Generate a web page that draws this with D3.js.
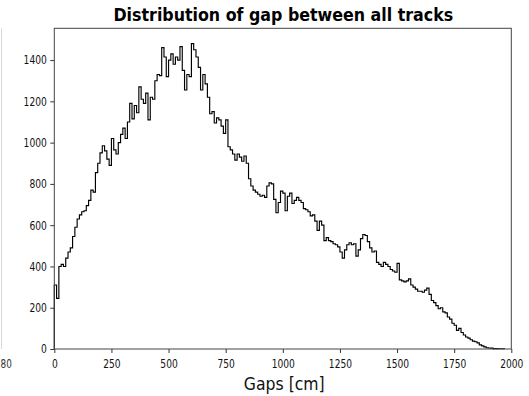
<!DOCTYPE html>
<html>
<head>
<meta charset="utf-8">
<script src="https://cdn.jsdelivr.net/npm/d3@7"></script>
<style>
  html, body { margin: 0; padding: 0; background: #fff; }
  svg { display: block; }
</style>
</head>
<body>
<svg id="chart" width="529" height="396"></svg>
<script>
// Histogram of gaps between tracks, 10 cm bins starting at 0 cm
const binStart = 0;
const binWidth = 10;
const counts = [
  310, 245, 400, 410, 400, 440, 470, 490, 545, 590,
  630, 650, 665, 670, 695, 720, 770, 760, 855, 900,
  950, 985, 960, 920, 890, 1020, 965, 945, 1000, 1040,
  1070, 1020, 1100, 1190, 1115, 1180, 1145, 1270, 1210, 1190,
  1240, 1110, 1220, 1210, 1300, 1330, 1325, 1460, 1415, 1320,
  1400, 1430, 1380, 1415, 1400, 1465, 1350, 1255, 1330, 1320,
  1480, 1450, 1415, 1365, 1255, 1330, 1285, 1220, 1140, 1150,
  1095, 1120, 1110, 1080, 1045, 1110, 980, 965, 945, 915,
  945, 930, 910, 935, 900, 825, 790, 770, 760, 750,
  740, 745, 735, 790, 805, 800, 725, 660, 710, 765,
  755, 670, 740, 755, 705, 720, 735, 720, 710, 680,
  675, 665, 645, 650, 620, 575, 620, 600, 525, 540,
  525, 520, 510, 505, 495, 470, 440, 480, 505, 515,
  505, 510, 450, 480, 535, 555, 550, 520, 490, 470,
  475, 420, 410, 400, 420, 410, 400, 385, 378, 372,
  415, 335, 330, 325, 330, 340, 310, 300, 290, 280,
  280, 275, 285, 295, 265, 235, 225, 210, 195, 200,
  180, 175, 155, 145, 125, 115, 90, 100, 80, 68,
  58, 53, 45, 38, 35, 30, 20, 15, 10, 6,
  5, 4, 2, 2, 1, 1, 1
];

const xTicks = [0, 250, 500, 750, 1000, 1250, 1500, 1750, 2000];
const yTicks = [0, 200, 400, 600, 800, 1000, 1200, 1400];
const xDomain = [0, 2000];

const titleText = "Distribution of gap between all tracks";
const xLabelText = "Gaps [cm]";
const neighbourTick = "80";

// Layout
const W = 529, H = 396;
const plot = { left: 54.3, right: 511.3, top: 28.3, bottom: 349 };
const FONT = "'DejaVu Sans', 'Liberation Sans', sans-serif";
const TEXT_SQUEEZE = 0.76;

const svg = d3.select("#chart");

const x = d3.scaleLinear().domain(xDomain).range([plot.left, plot.right]);
const yMax = d3.max(counts) * 1.05;
const y = d3.scaleLinear().domain([0, yMax]).range([plot.bottom, plot.top]);

// Horizontally narrow every label around its anchor point
function squeeze(sel, factor) {
  sel.each(function () {
    const t = d3.select(this);
    const ax = +t.attr("x") || 0;
    t.attr("transform", `translate(${ax},0) scale(${factor},1) translate(${-ax},0)`);
  });
}

// Edge of the neighbouring panel on the left
svg.append("line")
  .attr("x1", 1.5).attr("x2", 1.5)
  .attr("y1", plot.top).attr("y2", plot.bottom)
  .attr("stroke", "#d8d8d8").attr("stroke-width", 1);
const nb = svg.append("text")
  .attr("x", 0.5).attr("y", 368)
  .attr("text-anchor", "start")
  .attr("font-family", FONT).attr("font-size", 11.7)
  .attr("fill", "#333")
  .text(neighbourTick);
squeeze(nb, TEXT_SQUEEZE);

// Step outline of the histogram
const pts = [[binStart, 0]];
counts.forEach((c, i) => pts.push([binStart + i * binWidth, c]));
const lastEdge = binStart + counts.length * binWidth;
pts.push([lastEdge, counts[counts.length - 1]]);
pts.push([lastEdge, 0]);

const line = d3.line()
  .x(d => x(d[0]))
  .y(d => y(d[1]))
  .curve(d3.curveStepAfter);

svg.append("path")
  .datum(pts)
  .attr("fill", "none")
  .attr("stroke", "#000")
  .attr("stroke-width", 1.15)
  .attr("stroke-linejoin", "miter")
  .attr("d", line);

// Axes
const xAxis = svg.append("g")
  .attr("transform", `translate(0,${plot.bottom})`)
  .call(d3.axisBottom(x).tickValues(xTicks).tickFormat(d3.format("d")).tickSize(4).tickPadding(6));
const yAxis = svg.append("g")
  .attr("transform", `translate(${plot.left},0)`)
  .call(d3.axisLeft(y).tickValues(yTicks).tickFormat(d3.format("d")).tickSize(4).tickPadding(3.5));

[xAxis, yAxis].forEach(g => {
  g.select(".domain").remove();
  g.selectAll(".tick line").attr("stroke", "#333").attr("stroke-width", 1);
  g.selectAll(".tick text")
    .attr("font-family", FONT)
    .attr("font-size", 12)
    .attr("fill", "#111");
  squeeze(g.selectAll(".tick text"), TEXT_SQUEEZE);
});

// Frame
svg.append("rect")
  .attr("x", plot.left).attr("y", plot.top)
  .attr("width", plot.right - plot.left)
  .attr("height", plot.bottom - plot.top)
  .attr("fill", "none")
  .attr("stroke", "#444")
  .attr("stroke-width", 1);

// Title and axis label
const title = svg.append("text")
  .attr("x", (plot.left + plot.right) / 2 + 0.5)
  .attr("y", 20.7)
  .attr("text-anchor", "middle")
  .attr("font-family", FONT)
  .attr("font-weight", "bold")
  .attr("font-size", 18)
  .attr("fill", "#000")
  .text(titleText);
squeeze(title, 340 / title.node().getComputedTextLength());

const xl = svg.append("text")
  .attr("x", (plot.left + plot.right) / 2 + 1.5)
  .attr("y", 390)
  .attr("text-anchor", "middle")
  .attr("font-family", FONT)
  .attr("font-size", 18)
  .attr("fill", "#111")
  .text(xLabelText);
squeeze(xl, 81 / xl.node().getComputedTextLength());
</script>
</body>
</html>
